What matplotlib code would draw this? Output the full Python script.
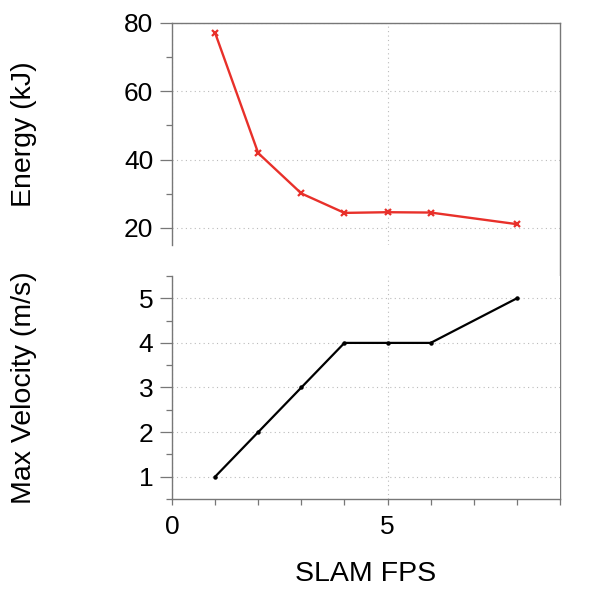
import numpy as np
import matplotlib
matplotlib.use('Agg')
import matplotlib.pyplot as plt
from matplotlib.ticker import MultipleLocator

plt.rcParams['font.family'] = ['Liberation Sans', 'DejaVu Sans']

# data
fps = [1, 2, 3, 4, 5, 6, 8]
energy = [77.1, 41.9, 30.1, 24.4, 24.6, 24.5, 21.1]
velocity = [1, 2, 3, 4, 4, 4, 5]

spine_col = '#777777'
grid_col = '#bbbbbb'

fig = plt.figure(figsize=(5.98, 5.98), dpi=100)
W, H = 598, 598
x0, x1 = 172, 560
ax1 = fig.add_axes([x0 / W, 1 - 245 / H, (x1 - x0) / W, (245 - 23) / H])
ax2 = fig.add_axes([x0 / W, 1 - 499 / H, (x1 - x0) / W, (499 - 276) / H])

# top panel : energy
ax1.plot(fps, energy, color='#e8302a', lw=1.7, marker='x', ms=4, mew=1.6)
ax1.set_xlim(0, 9)
ax1.set_ylim(15, 80)
ax1.yaxis.set_major_locator(MultipleLocator(20))
ax1.yaxis.set_minor_locator(MultipleLocator(10))
ax1.xaxis.set_major_locator(MultipleLocator(5))
ax1.spines['bottom'].set_visible(False)
ax1.tick_params(axis='x', which='both', bottom=False, labelbottom=False)
ax1.set_ylabel('Energy (kJ)', fontsize=20.5)

# bottom panel : velocity
ax2.plot(fps, velocity, color='black', lw=1.6, marker='o', ms=2.2)
ax2.set_xlim(0, 9)
ax2.set_ylim(0.5, 5.5)
ax2.yaxis.set_major_locator(MultipleLocator(1))
ax2.yaxis.set_minor_locator(MultipleLocator(0.5))
ax2.xaxis.set_major_locator(MultipleLocator(5))
ax2.xaxis.set_minor_locator(MultipleLocator(1))
ax2.spines['top'].set_visible(False)
ax2.set_ylabel('Max Velocity (m/s)', fontsize=20.5)
ax2.set_xlabel('SLAM FPS', fontsize=20.5, labelpad=16)

for ax in (ax1, ax2):
    for s in ax.spines.values():
        s.set_color(spine_col)
        s.set_linewidth(1.0)
    ax.tick_params(axis='y', which='major', length=8.5, width=0.9, color=spine_col,
                   labelsize=19, pad=5, direction='out')
    ax.tick_params(axis='y', which='minor', length=4.3, width=0.9, color=spine_col,
                   direction='out')
    ax.tick_params(axis='x', which='both', length=4.3, width=0.9, color=spine_col,
                   labelsize=19, pad=7, direction='out')
    ax.grid(True, which='major', color=grid_col, ls=(0, (1, 3)), lw=0.8)
    ax.set_axisbelow(True)
    ax.yaxis.set_label_coords(-0.348, 0.5)

ax2.spines['right'].set_visible(False)
ax1.spines['right'].set_visible(False)
# right edge runs unbroken through both panels
ax1.plot([1, 1], [1, -(499 - 23) / (245 - 23) + 1], transform=ax1.transAxes,
         color=spine_col, lw=1.0, clip_on=False)

fig.savefig('out.png', dpi=100)
